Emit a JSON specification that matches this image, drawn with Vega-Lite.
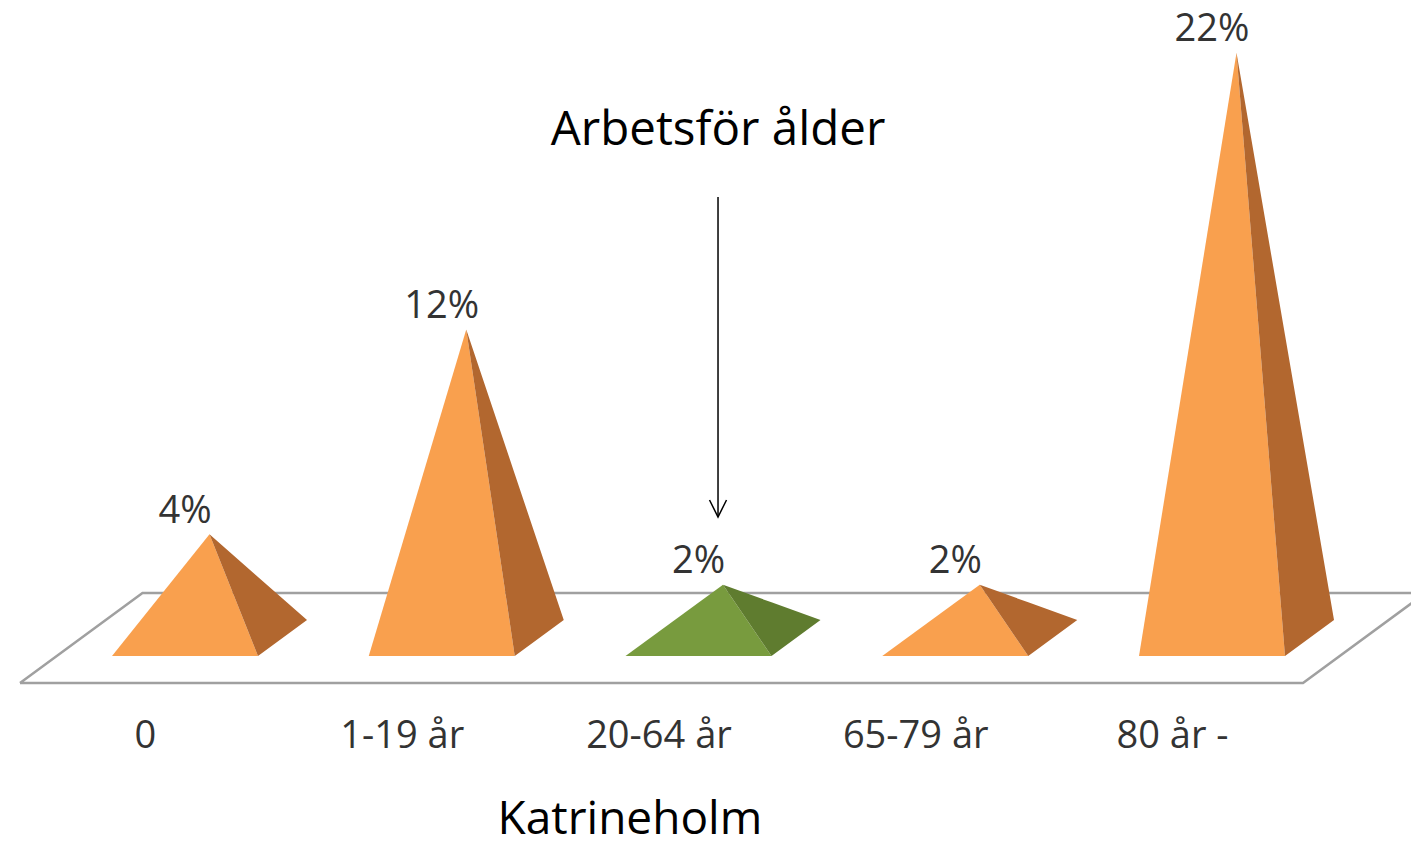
{
  "$schema": "https://vega.github.io/schema/vega-lite/v6.json",
  "autosize": {"type": "fit", "contains": "padding"},
  "width": 1411,
  "height": 848,
  "padding": 0,
  "background": "white",
  "view": {"stroke": null},
  "config": {"text": {"font": "Open Sans"}},
  "datasets": {
    "andel": [
      {"age": "0", "pct": 3.9, "grupp": "övrig"},
      {"age": "1-19 år", "pct": 11.6, "grupp": "övrig"},
      {"age": "20-64 år", "pct": 2.0, "grupp": "arbetsför"},
      {"age": "65-79 år", "pct": 2.0, "grupp": "övrig"},
      {"age": "80 år -", "pct": 22.0, "grupp": "övrig"}
    ],
    "golv": [{"namn": "golv"}],
    "notes": [
      {"note": "Arbetsför ålder", "roll": "titel"},
      {"note": "Katrineholm", "roll": "ort"}
    ]
  },
  "layer": [
    {
      "data": {"name": "golv"},
      "transform": [
        {"fold": ["FL", "FR", "BR", "BL", "FL2"], "as": ["corner", "_c"]},
        {"calculate": "indexof(['FL','FR','BR','BL','FL2'], datum.corner)", "as": "ord"},
        {"calculate": "datum.corner==='FR' ? 5.35443 : datum.corner==='BR' ? 5.83154 : datum.corner==='BL' ? 0.83446 : 0.35735", "as": "gx"},
        {"calculate": "(datum.corner==='BR' || datum.corner==='BL') ? 2.369 : -1.015", "as": "gy"}
      ],
      "mark": {"type": "line", "stroke": "#a0a0a0", "strokeWidth": 2.5, "clip": true},
      "encoding": {
        "x": {"field": "gx", "type": "quantitative", "axis": null, "scale": {"domain": [0.27945, 5.77505], "nice": false, "zero": false}},
        "y": {"field": "gy", "type": "quantitative", "axis": null, "scale": {"domain": [-7.218, 24.662], "nice": false, "zero": false}},
        "order": {"field": "ord", "type": "quantitative"}
      }
    },
    {
      "data": {"name": "andel"},
      "transform": [
        {"window": [{"op": "row_number", "as": "i"}]},
        {"fold": ["L", "A", "R"], "as": ["vertex", "_v"]},
        {"calculate": "datum.i + (datum.vertex==='L' ? -0.2843 : datum.vertex==='A' ? 0.0954 : 0.2843)", "as": "vx"},
        {"calculate": "datum.vertex==='A' ? 0.6767 + datum.pct : 0", "as": "vy"},
        {"calculate": "0", "as": "vy2"}
      ],
      "mark": {"type": "area", "interpolate": "linear", "opacity": 1},
      "encoding": {
        "x": {"field": "vx", "type": "quantitative", "axis": null, "scale": {"domain": [0.27945, 5.77505], "nice": false, "zero": false}},
        "y": {"field": "vy", "type": "quantitative", "axis": null, "scale": {"domain": [-7.218, 24.662], "nice": false, "zero": false}},
        "y2": {"field": "vy2"},
        "detail": {"field": "age"},
        "fill": {"condition": {"test": "datum.grupp === 'arbetsför'", "value": "#789b3e"}, "value": "#f9a04e"}
      }
    },
    {
      "data": {"name": "andel"},
      "transform": [
        {"window": [{"op": "row_number", "as": "i"}]},
        {"fold": ["A", "F", "B"], "as": ["vertex", "_v"]},
        {"calculate": "0.6767 + datum.pct", "as": "apex"},
        {"calculate": "datum.i + (datum.vertex==='A' ? 0.0954 : datum.vertex==='F' ? 0.2843 : 0.4752)", "as": "vx"},
        {"calculate": "datum.vertex==='A' ? datum.apex : datum.vertex==='F' ? datum.apex + 0.4974 * (1.3534 - datum.apex) : 1.3534", "as": "vy"},
        {"calculate": "datum.vertex==='A' ? datum.apex : datum.vertex==='F' ? 0 : 1.3534", "as": "vy2"}
      ],
      "mark": {"type": "area", "interpolate": "linear", "opacity": 1},
      "encoding": {
        "x": {"field": "vx", "type": "quantitative", "axis": null, "scale": {"domain": [0.27945, 5.77505], "nice": false, "zero": false}},
        "y": {"field": "vy", "type": "quantitative", "axis": null, "scale": {"domain": [-7.218, 24.662], "nice": false, "zero": false}},
        "y2": {"field": "vy2"},
        "detail": {"field": "age"},
        "fill": {"condition": {"test": "datum.grupp === 'arbetsför'", "value": "#5f7c2f"}, "value": "#b2672f"}
      }
    },
    {
      "data": {"name": "andel"},
      "transform": [
        {"window": [{"op": "row_number", "as": "i"}]},
        {"calculate": "format(datum.pct, '.0f') + '%'", "as": "etikett"},
        {"calculate": "datum.pct + 0.6767 + 0.85", "as": "ly"}
      ],
      "mark": {"type": "text", "fontSize": 38, "color": "#333333", "baseline": "middle", "align": "center"},
      "encoding": {
        "x": {"field": "i", "type": "quantitative", "axis": null, "scale": {"domain": [0.27945, 5.77505], "nice": false, "zero": false}},
        "y": {"field": "ly", "type": "quantitative", "axis": null, "scale": {"domain": [-7.218, 24.662], "nice": false, "zero": false}},
        "text": {"field": "etikett"}
      }
    },
    {
      "data": {"name": "andel"},
      "transform": [
        {"window": [{"op": "row_number", "as": "i"}]},
        {"calculate": "datum.i - 0.154", "as": "cx"}
      ],
      "mark": {"type": "text", "fontSize": 38, "color": "#333333", "baseline": "middle", "align": "center"},
      "encoding": {
        "x": {"field": "cx", "type": "quantitative", "axis": null, "scale": {"domain": [0.27945, 5.77505], "nice": false, "zero": false}},
        "y": {"datum": -3.045, "type": "quantitative", "axis": null, "scale": {"domain": [-7.218, 24.662], "nice": false, "zero": false}},
        "text": {"field": "age"}
      }
    },
    {
      "data": {"name": "notes"},
      "transform": [{"filter": "datum.roll === 'titel'"}],
      "mark": {"type": "text", "fontSize": 47.5, "color": "#000000", "baseline": "alphabetic", "align": "center"},
      "encoding": {
        "x": {"datum": 3.076, "type": "quantitative", "axis": null, "scale": {"domain": [0.27945, 5.77505], "nice": false, "zero": false}},
        "y": {"datum": 19.211, "type": "quantitative", "axis": null, "scale": {"domain": [-7.218, 24.662], "nice": false, "zero": false}},
        "text": {"field": "note"}
      }
    },
    {
      "data": {"name": "notes"},
      "transform": [{"filter": "datum.roll === 'ort'"}],
      "mark": {"type": "text", "fontSize": 46, "color": "#000000", "baseline": "alphabetic", "align": "center"},
      "encoding": {
        "x": {"datum": 2.733, "type": "quantitative", "axis": null, "scale": {"domain": [0.27945, 5.77505], "nice": false, "zero": false}},
        "y": {"datum": -6.692, "type": "quantitative", "axis": null, "scale": {"domain": [-7.218, 24.662], "nice": false, "zero": false}},
        "text": {"field": "note"}
      }
    },
    {
      "data": {"name": "notes"},
      "transform": [{"filter": "datum.roll === 'titel'"}],
      "mark": {"type": "rule", "stroke": "#000000", "strokeWidth": 1.5},
      "encoding": {
        "x": {"datum": 3.076, "type": "quantitative", "axis": null, "scale": {"domain": [0.27945, 5.77505], "nice": false, "zero": false}},
        "y": {"datum": 17.256, "type": "quantitative", "axis": null, "scale": {"domain": [-7.218, 24.662], "nice": false, "zero": false}},
        "y2": {"datum": 5.226}
      }
    },
    {
      "data": {"name": "notes"},
      "transform": [{"filter": "datum.roll === 'titel'"}],
      "mark": {"type": "point", "shape": "M-0.5,-1L0,0L0.5,-1", "size": 1156, "filled": false, "stroke": "#000000", "strokeWidth": 1.5, "opacity": 1},
      "encoding": {
        "x": {"datum": 3.076, "type": "quantitative", "axis": null, "scale": {"domain": [0.27945, 5.77505], "nice": false, "zero": false}},
        "y": {"datum": 5.226, "type": "quantitative", "axis": null, "scale": {"domain": [-7.218, 24.662], "nice": false, "zero": false}}
      }
    }
  ]
}
